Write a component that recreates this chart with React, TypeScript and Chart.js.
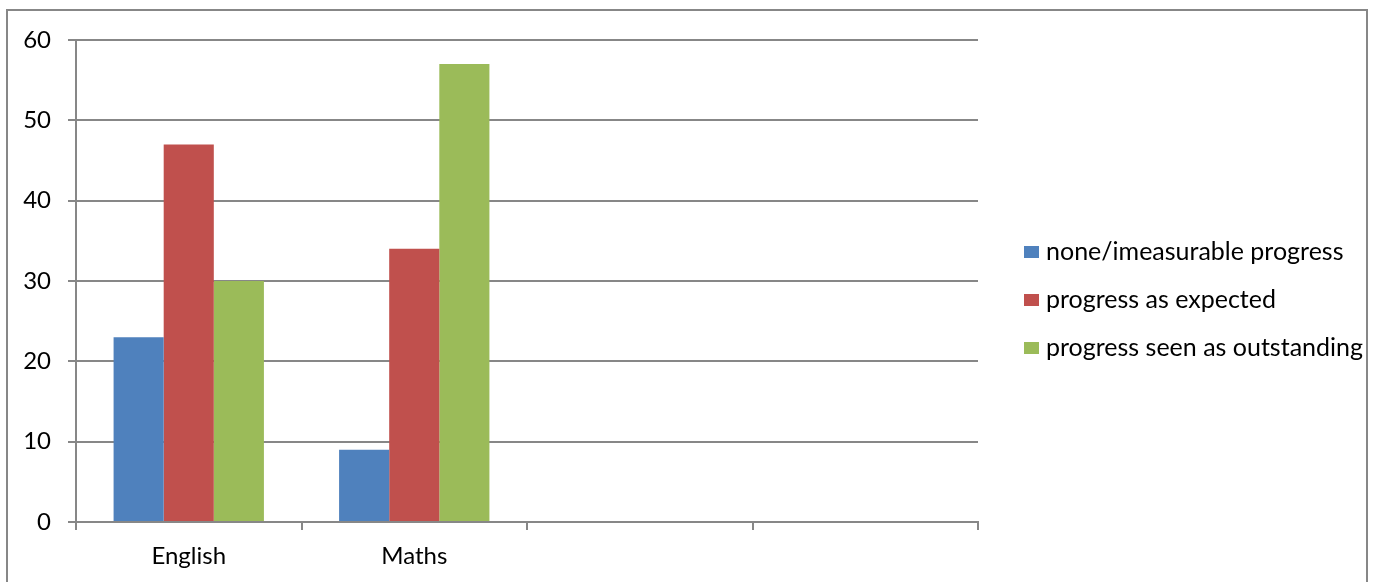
import React, { useEffect, useRef } from "react";
import { Chart, registerables } from "chart.js";

Chart.register(...registerables);

const categories = ["English", "Maths", "", ""];
const seriesNames = [
  "none/imeasurable progress",
  "progress as expected",
  "progress seen as outstanding",
];
const noneProgress = [23, 9];
const expectedProgress = [47, 34];
const outstandingProgress = [30, 57];
const seriesColors = ["#4F81BD", "#C0504D", "#9BBB59"];
const yTicks = { min: 0, max: 60, step: 10 };

const FONT = "Lato";
const AXIS_GRAY = "#878787";

// Outer frame and right-hand legend drawn directly on the canvas
const framePlugin = {
  id: "frameAndLegend",
  afterDraw(chart: Chart) {
    const ctx = chart.ctx;
    ctx.save();
    ctx.strokeStyle = AXIS_GRAY;
    ctx.lineWidth = 2;
    ctx.strokeRect(7, 10, 1360, 620);

    ctx.font = `25px ${FONT}`;
    ctx.textBaseline = "middle";
    ctx.textAlign = "left";
    const rowY = [252, 300, 348];
    seriesNames.forEach((name, i) => {
      ctx.fillStyle = seriesColors[i];
      ctx.fillRect(1024, rowY[i] - 6, 15, 12);
      ctx.fillStyle = "#000";
      ctx.fillText(name, 1046, rowY[i]);
    });
    ctx.restore();
  },
};

export default function App() {
  const canvasRef = useRef<HTMLCanvasElement | null>(null);

  useEffect(() => {
    if (!canvasRef.current) return;
    const data = [noneProgress, expectedProgress, outstandingProgress];
    const chart = new Chart(canvasRef.current, {
      type: "bar",
      data: {
        labels: categories,
        datasets: seriesNames.map((name, i) => ({
          label: name,
          data: data[i],
          backgroundColor: seriesColors[i],
          borderWidth: 0,
          barPercentage: 1,
          categoryPercentage: 2 / 3,
        })),
      },
      options: {
        responsive: false,
        animation: false,
        layout: { padding: { left: 0, top: 40, right: 415, bottom: 0 } },
        plugins: {
          legend: { display: false },
          tooltip: { enabled: false },
        },
        scales: {
          x: {
            afterFit(scale: any) {
              scale.height = 60;
            },
            grid: {
              offset: true,
              drawOnChartArea: false,
              drawTicks: true,
              tickLength: 8,
              color: AXIS_GRAY,
              lineWidth: 2,
            },
            border: { display: true, color: AXIS_GRAY, width: 2 },
            ticks: {
              color: "#000",
              font: { family: FONT, size: 24 },
              padding: 12,
            },
          },
          y: {
            min: yTicks.min,
            max: yTicks.max,
            afterFit(scale: any) {
              scale.width = 76;
            },
            ticks: {
              stepSize: yTicks.step,
              color: "#000",
              font: { family: FONT, size: 24 },
              padding: 17,
            },
            grid: {
              color: AXIS_GRAY,
              lineWidth: 2,
              drawTicks: true,
              tickLength: 8,
            },
            border: { display: true, color: AXIS_GRAY, width: 2 },
          },
        },
      },
      plugins: [framePlugin],
    });
    return () => chart.destroy();
  }, []);

  return (
    <div style={{ position: "fixed", left: 0, top: 0, width: 1393, height: 582, background: "#fff" }}>
      <canvas ref={canvasRef} width={1393} height={582} />
    </div>
  );
}
